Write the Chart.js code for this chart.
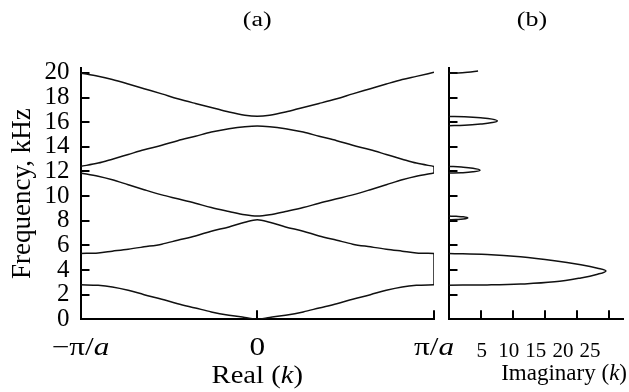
<!DOCTYPE html>
<html>
<head>
<meta charset="utf-8">
<script src="https://cdn.jsdelivr.net/npm/chart.js@4.4.1/dist/chart.umd.min.js"></script>
<style>
  html, body { margin: 0; padding: 0; background: #fff; }
  #wrap { position: relative; width: 629px; height: 392px; }
  #real { position: absolute; left: 0; top: 0; }
  #imag { position: absolute; left: 440px; top: 0; }
</style>
</head>
<body>
<div id="wrap">
  <canvas id="real" width="629" height="392"></canvas>
  <canvas id="imag" width="189" height="392"></canvas>
</div>
<script>
// wave number, in units of pi/a
const kGrid = [-1, -0.9, -0.82, -0.73, -0.64, -0.54, -0.45, -0.35, -0.26, -0.16, -0.07, 0,
               0.07, 0.16, 0.26, 0.35, 0.45, 0.54, 0.64, 0.73, 0.82, 0.9, 1];

// frequency (kHz) of each band along kGrid
const band1 = [2.8, 2.76, 2.63, 2.36, 2.0, 1.63, 1.27, 0.92, 0.6, 0.33, 0.15, 0,
               0.15, 0.33, 0.6, 0.92, 1.27, 1.63, 2.0, 2.36, 2.63, 2.76, 2.8];
const band2 = [5.34, 5.39, 5.53, 5.69, 5.88, 6.1, 6.42, 6.77, 7.15, 7.5, 7.88, 8.08,
               7.88, 7.5, 7.15, 6.77, 6.42, 6.1, 5.88, 5.69, 5.53, 5.39, 5.34];
const band3 = [11.88, 11.62, 11.33, 10.92, 10.52, 10.1, 9.78, 9.42, 9.07, 8.75, 8.48, 8.38,
               8.48, 8.75, 9.07, 9.42, 9.78, 10.1, 10.52, 10.92, 11.33, 11.62, 11.88];
const band4 = [12.41, 12.68, 13.0, 13.38, 13.76, 14.13, 14.5, 14.86, 15.2, 15.47, 15.64, 15.7,
               15.64, 15.47, 15.2, 14.86, 14.5, 14.13, 13.76, 13.38, 13.0, 12.68, 12.41];
const band5 = [20.0, 19.73, 19.46, 19.1, 18.72, 18.3, 17.9, 17.52, 17.2, 16.82, 16.56, 16.48,
               16.56, 16.82, 17.2, 17.52, 17.9, 18.3, 18.72, 19.1, 19.46, 19.72, 20.05];

// vertical joins at the zone edge k = pi/a
const gapEdges = [[2.8, 5.34], [11.88, 12.41]];

// imaginary part of k inside the gaps (Im k, frequency)
const lobe1Im = [0, 6, 11.2, 16.5, 20.6, 23.2, 24.5, 23.2, 20.6, 16.5, 11.2, 6, 0];
const lobe1F  = [2.77, 2.79, 2.86, 3.04, 3.36, 3.66, 3.93, 4.15, 4.42, 4.75, 5.07, 5.26, 5.34];
const lobe2Im = [0, 1.2, 2.3, 3.0, 2.3, 1.2, 0];
const lobe2F  = [8.08, 8.1, 8.14, 8.23, 8.32, 8.36, 8.38];
const lobe3Im = [0, 2, 3.8, 4.9, 3.8, 2, 0];
const lobe3F  = [11.88, 11.9, 11.97, 12.1, 12.26, 12.36, 12.41];
const lobe4Im = [0, 2.5, 5, 6.8, 7.6, 6.8, 5, 2.5, 0];
const lobe4F  = [15.72, 15.75, 15.85, 15.97, 16.1, 16.25, 16.36, 16.44, 16.47];
const lobe5Im = [0, 1.5, 3, 4.6];
const lobe5F  = [19.98, 20.0, 20.06, 20.15];

const freqTicks = [0, 2, 4, 6, 8, 10, 12, 14, 16, 18, 20];
const realTicks = [-1, 0, 1];
const realTickLabels = ['\u2212\u03c0/*a*', '0', '\u03c0/*a*'];
const imagTicks = [5, 10, 15, 20, 25];

const SERIF = '"Liberation Serif", "Times New Roman", serif';
const INK = '#111';

// text with *italic* parts, optionally stretched sideways like the printed figure
function drawRich(ctx, text, x, y, size, align, stretch) {
  const sx = stretch || 1;
  const parts = text.split('*');
  const fonts = parts.map((p, i) => (i % 2 ? 'italic ' : '') + size + 'px ' + SERIF);
  let w = 0;
  parts.forEach((p, i) => { ctx.font = fonts[i]; w += ctx.measureText(p).width; });
  const x0 = align === 'right' ? x - w * sx : x - (w * sx) / 2;
  ctx.save();
  ctx.translate(x0, y);
  ctx.scale(sx, 1);
  ctx.fillStyle = '#000';
  ctx.textAlign = 'left';
  ctx.textBaseline = 'alphabetic';
  let cx = 0;
  parts.forEach((p, i) => {
    ctx.font = fonts[i];
    ctx.fillText(p, cx, 0);
    cx += ctx.measureText(p).width;
  });
  ctx.restore();
}

function curve(xs, ys) {
  return {
    data: xs.map((x, i) => ({ x, y: ys[i] })),
    borderColor: INK, borderWidth: 1.5, pointRadius: 0, tension: 0.4, fill: false,
  };
}

function band(vals) {
  const ds = curve(kGrid, vals);
  ds.cubicInterpolationMode = 'monotone';
  return ds;
}

const axisGrid = { drawOnChartArea: false, drawTicks: true, tickLength: -9, color: '#000', lineWidth: 2 };
const axisBorder = { display: true, color: '#000', width: 2 };

function freqAxis(showLabels) {
  return {
    type: 'linear', min: 0, max: 20.4,
    afterBuildTicks: (s) => { s.ticks = freqTicks.map((v) => ({ value: v })); },
    ticks: {
      display: showLabels, autoSkip: false, color: '#000', padding: 20,
      font: { family: SERIF, size: 25 },
    },
    grid: axisGrid, border: axisBorder,
  };
}

const realLabels = {
  id: 'realLabels',
  afterDraw(chart) {
    const { ctx, chartArea, scales } = chart;
    const mid = (chartArea.left + chartArea.right) / 2;
    drawRich(ctx, '(a)', mid, 26, 20, 'center', 1.3);
    realTicks.forEach((v, i) =>
      drawRich(ctx, realTickLabels[i], scales.x.getPixelForValue(v), 355, 25, 'center', 1.25));
    drawRich(ctx, 'Real (*k*)', mid, 383, 26, 'center', 1.1);
  },
};

const realY = freqAxis(true);
realY.afterFit = (s) => { s.width = 80.5; };
realY.title = {
  display: true, text: 'Frequency, kHz', color: '#000',
  font: { family: SERIF, size: 27 }, padding: { top: 7, bottom: 0 },
};

new Chart(document.getElementById('real'), {
  type: 'scatter',
  data: {
    datasets: [band1, band2, band3, band4, band5].map(band)
      .concat(gapEdges.map((g) => curve([1, 1], g))),
  },
  options: {
    responsive: false, animation: false,
    layout: { padding: { top: 68, right: 195, left: 0, bottom: 0 } },
    plugins: { legend: { display: false }, tooltip: { enabled: false } },
    datasets: { scatter: { showLine: true } },
    scales: {
      x: {
        type: 'linear', min: -1, max: 1,
        afterBuildTicks: (s) => { s.ticks = realTicks.map((v) => ({ value: v })); },
        afterFit: (s) => { s.height = 72.7; },
        ticks: { display: false },
        grid: axisGrid, border: axisBorder,
      },
      y: realY,
    },
  },
  plugins: [realLabels],
});

const imagLabels = {
  id: 'imagLabels',
  afterDraw(chart) {
    const { ctx, chartArea } = chart;
    drawRich(ctx, '(b)', (chartArea.left + chartArea.right) / 2 - 4, 26, 20, 'center', 1.3);
    drawRich(ctx, 'Imaginary (*k*)', chart.width - 2, 380, 23, 'right');
  },
};

const imagY = freqAxis(false);
imagY.afterFit = (s) => { s.width = 8.5; };

new Chart(document.getElementById('imag'), {
  type: 'scatter',
  data: {
    datasets: [
      curve(lobe1Im, lobe1F), curve(lobe2Im, lobe2F), curve(lobe3Im, lobe3F),
      curve(lobe4Im, lobe4F), curve(lobe5Im, lobe5F),
    ],
  },
  options: {
    responsive: false, animation: false,
    layout: { padding: { top: 68, right: 5.7, left: 0, bottom: 0 } },
    plugins: { legend: { display: false }, tooltip: { enabled: false } },
    datasets: { scatter: { showLine: true } },
    scales: {
      x: {
        type: 'linear', min: 0, max: 27.2, weight: 0,
        afterBuildTicks: (s) => { s.ticks = [0].concat(imagTicks).map((v) => ({ value: v })); },
        afterFit: (s) => { s.height = 0; },
        ticks: { display: false },
        grid: axisGrid, border: axisBorder,
      },
      // label row: the printed numbers sit a little left of their tick marks
      xl: {
        type: 'linear', position: 'bottom', min: -1.13, max: 31.15, weight: 1,
        afterBuildTicks: (s) => { s.ticks = imagTicks.map((v) => ({ value: v })); },
        afterFit: (s) => { s.height = 72.7; },
        ticks: { color: '#000', padding: 12, maxRotation: 0, autoSkip: false, font: { family: SERIF, size: 21 } },
        grid: { display: false }, border: { display: false },
      },
      y: imagY,
    },
  },
  plugins: [imagLabels],
});
</script>
</body>
</html>
